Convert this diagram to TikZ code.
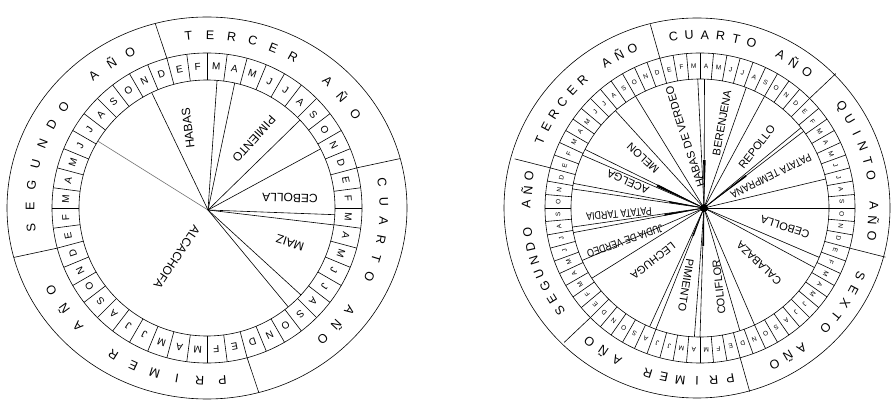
\documentclass[tikz,border=0pt]{standalone}
\usepackage{graphicx}
\usepackage{fontspec}
\usetikzlibrary{calc}
\setmainfont{Liberation Sans}
\tikzset{
  ring/.style={line width=0.6pt},
  yr/.style={font=\fontsize{12.5}{12.5}\selectfont, inner sep=0pt},
  lmon/.style={font=\fontsize{10}{10}\selectfont, inner sep=0pt},
  rmon/.style={font=\fontsize{6.5}{6.5}\selectfont, inner sep=0pt},
  lcrop/.style={font=\fontsize{12}{12}\selectfont, inner sep=0pt},
  rcrop/.style={font=\fontsize{11}{11}\selectfont, inner sep=0pt},
  spoke/.style={line width=0.6pt},
}
% #1 prefix, #2 start angle, #3 step, #4 rx, #5 ry, #6 letters
\newcommand\yeartext[6]{%
  \foreach \c [count=\k from 0] in {#6} {%
    \pgfmathsetmacro\ang{#2-#3*\k}%
    \node[yr, rotate=\ang-90, name=#1\k] at (\ang:#4 and #5) {\c};
  }}
% #1 prefix, #2 years, #3 step, #4 r in, #5 r out, #6 style
\newcommand\monthring[6]{%
  \pgfmathsetmacro\rmid{(#4+#5)/2}%
  \foreach \y in {1,...,#2} {%
    \foreach \m [count=\k from 0] in {E,F,M,A,M,J,J,A,S,O,N,D} {%
      \pgfmathsetmacro\ang{105-#3*(12*(\y-1)+\k+0.5)}%
      \pgfmathsetmacro\bnd{105-#3*(12*(\y-1)+\k)}%
      \node[#6, rotate=\ang-90, name=#1\y-\k] at (\ang:\rmid) {\m};
      \draw[ring] (\bnd:#4) -- (\bnd:#5);
    }}}
\begin{document}
\begin{tikzpicture}[x=1pt,y=1pt]
\useasboundingbox (0,0) rectangle (891,399);
\fill[white] (0,0) rectangle (891,399);

% ================= LEFT WHEEL =================
\begin{scope}[shift={(207,191)}]
  \coordinate (LH) at (1,-2);
  \draw[ring] (0,0) ellipse [x radius=200, y radius=191];
  \draw[ring] (0,0) circle [radius=155];
  \draw[ring] (0,0) circle [radius=128];
  \monthring{lm}{4}{7.5}{128}{155}{lmon}
  \foreach \a in {105,15,-75,-165} \draw[ring] (\a:155) -- (\a:200 and 191);
  \yeartext{lt}{96}{7}{177}{173}{T,E,R,C,E,R,{},A,Ñ,O}
  \yeartext{lc}{8.5}{6.4}{177}{173}{C,U,A,R,T,O,{},A,Ñ,O}
  \yeartext{lp}{-85}{7.4}{177}{173}{P,R,I,M,E,R,{},A,Ñ,O}
  \yeartext{ls}{186.7}{7.1}{177}{173}{S,E,G,U,N,D,O,{},A,Ñ,O}
  \draw[spoke, black!55] (LH) -- (148.5:128);
  \foreach \a in {115.6,85.5,77.5,43.4,27.5,-3,-7.6,-42.8,-50.6}
    \draw[spoke] (LH) -- (\a:128);
\end{scope}
\node[lcrop, rotate=97] (habas) at (188,271) {HABAS};
\node[lcrop, rotate=228] (pimL) at (254,260) {PIMIENTO};
\node[lcrop, rotate=178] (cebL) at (290,201) {CEBOLLA};
\node[lcrop, rotate=162] (maiz) at (290,156) {MAIZ};
\node[lcrop, rotate=-124] (alca) at (177,142) {ALCACHOFA};

% ================= RIGHT WHEEL =================
\draw[ring] (697,191) ellipse [x radius=193, y radius=190];
\begin{scope}[shift={(700,191)}]
  \coordinate (RH) at (4,0);
  \draw[ring] (0,0) circle [radius=155];
  \draw[ring] (0,0) circle [radius=129];
  \monthring{rm}{6}{5}{129}{155}{rmon}
  \foreach \a in {105,45,-15,-75,-135,-195} \draw[ring] (\a:155) -- (\a:192 and 190);
  \yeartext{rc}{98.8}{5.2}{174}{173}{C,U,A,R,T,O,{},A,Ñ,O}
  \yeartext{rq}{35.8}{5.0}{174}{173}{Q,U,I,N,T,O,{},A,Ñ,O}
  \yeartext{rx}{-23}{5.2}{174}{173}{S,E,X,T,O,{},A,Ñ,O}
  \yeartext{rp}{-80}{5.5}{174}{173}{P,R,I,M,E,R,{},A,Ñ,O}
  \yeartext{rs}{216.4}{4.7}{174}{173}{S,E,G,U,N,D,O,{},A,Ñ,O}
  \yeartext{rt}{157}{4.9}{174}{173}{T,E,R,C,E,R,{},A,Ñ,O}
  \foreach \a in {120,91,88,69,60,38.5,36.5,13,0,-22.5,-27.5,-65,-72,-90,-92.5,-110,-113,-147,-156,-169,-171.5,171.5,169,155.8,153,131}
    \draw[spoke] (RH) -- (\a:129);
  \foreach \a/\b/\l in {91/88/48,38.5/36.5/53,-90/-92.5/38,-110/-113/30,-169/-171.5/40,171.5/169/35,155.8/153/52}
    \fill (RH) -- ($(RH)+(\a:\l)$) -- ($(RH)+(\b:\l)$) -- cycle;
  \fill (RH) circle [radius=4];
\end{scope}
\node[rcrop, rotate=108] (hdv) at (685,262) {HABAS DE VERDEO};
\node[rcrop, rotate=80] (bere) at (722,276) {BERENJENA};
\node[rcrop, rotate=52] (repo) at (757,252) {REPOLLO};
\node[rcrop, rotate=206] (ptem) at (771,223) {\scalebox{0.86}[1]{PATATA TEMPRANA}};
\node[rcrop, rotate=162] (cebR) at (785,172) {CEBOLLA};
\node[rcrop, rotate=136] (cala) at (759,136) {CALABAZA};
\node[rcrop, rotate=96] (coli) at (719,112) {COLIFLOR};
\node[rcrop, rotate=261] (pimR) at (686,114) {PIMIENTO};
\node[rcrop, rotate=218] (lech) at (653,138) {LECHUGA};
\node[rcrop, rotate=199] (judi) at (625,158) {\scalebox{0.8}[1]{JUDIA DE VERDEO}};
\node[rcrop, rotate=185] (ptar) at (619,185) {\scalebox{0.81}[1]{PATATA TARDIA}};
\node[rcrop, rotate=156] (acel) at (628,217) {ACELGA};
\node[rcrop, rotate=137] (melo) at (643,241) {MELON};
\end{tikzpicture}
\end{document}
